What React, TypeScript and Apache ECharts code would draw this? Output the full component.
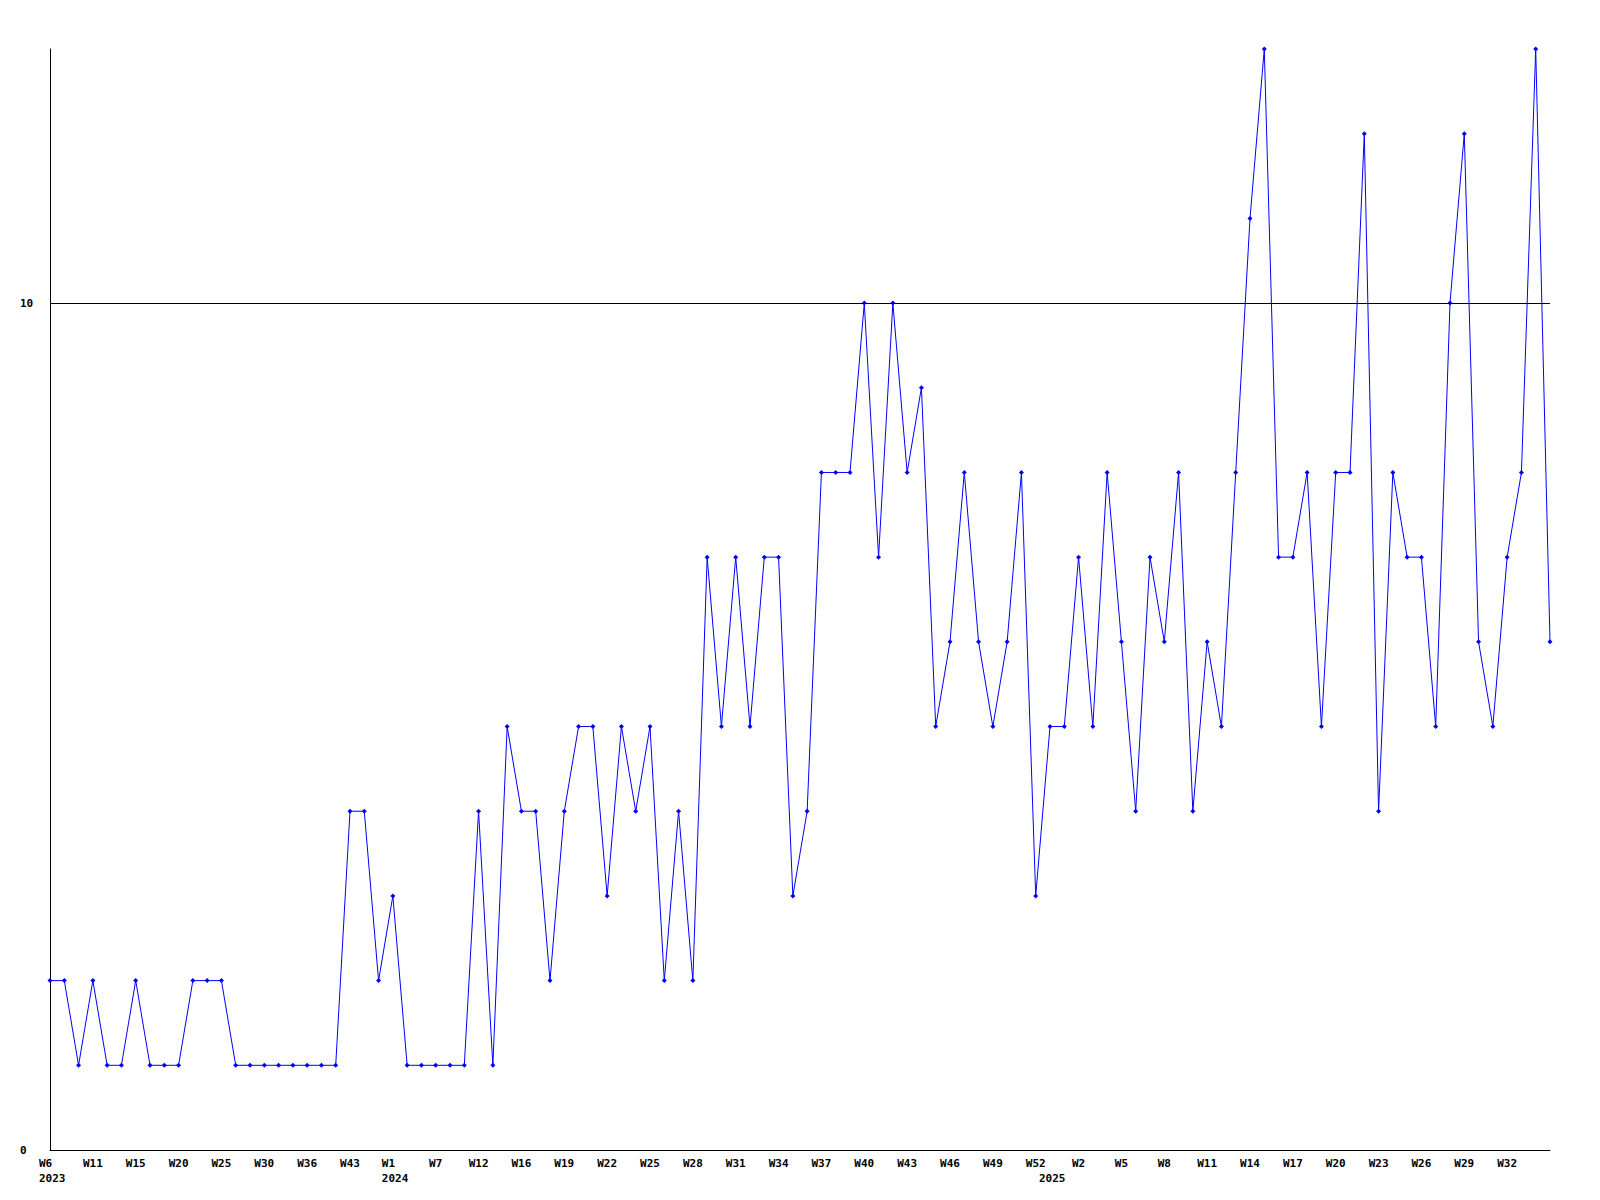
import React, { useEffect, useRef } from "react";
import * as echarts from "echarts";

// Week categories ("year week")
const weeks2023 = ["W6", "W7", "W9", "W11", "W12", "W13", "W15", "W17", "W18", "W20", "W21", "W23", "W25", "W27", "W28", "W30", "W32", "W34", "W36", "W38", "W40", "W43", "W46", "W49"];
const weeks2024 = ["W1", "W3", "W5", "W7", "W9", "W10", "W12", "W13", "W15", "W16", "W17", "W18", "W19", "W20", "W21", "W22", "W23", "W24", "W25", "W26", "W27", "W28", "W29", "W30", "W31", "W32", "W33", "W34", "W35", "W36", "W37", "W38", "W39", "W40", "W41", "W42", "W43", "W44", "W45", "W46", "W47", "W48", "W49", "W50", "W51", "W52"];
const weeks2025 = ["W1", "W1", "W2", "W3", "W4", "W5", "W6", "W7", "W8", "W9", "W10", "W11", "W12", "W13", "W14", "W15", "W16", "W17", "W18", "W19", "W20", "W21", "W22", "W23", "W24", "W25", "W26", "W27", "W28", "W29", "W30", "W31", "W32", "W33", "W34", "W35"];

const categories: string[] = [
  ...weeks2023.map((w) => "2023 " + w),
  ...weeks2024.map((w) => "2024 " + w),
  ...weeks2025.map((w) => "2025 " + w),
];

const values = [
  2, 2, 1, 2, 1, 1, 2, 1, 1, 1, 2, 2, 2, 1, 1, 1, 1, 1, 1, 1,
  1, 4, 4, 2, 3, 1, 1, 1, 1, 1, 4, 1, 5, 4, 4, 2, 4, 5, 5, 3,
  5, 4, 5, 2, 4, 2, 7, 5, 7, 5, 7, 7, 3, 4, 8, 8, 8, 10, 7, 10,
  8, 9, 5, 6, 8, 6, 5, 6, 8, 3, 5, 5, 7, 5, 8, 6, 4, 7, 6, 8,
  4, 6, 5, 8, 11, 13, 7, 7, 8, 5, 8, 8, 12, 4, 8, 7, 7, 5, 10, 12,
  6, 5, 7, 8, 13, 6,
];

const yMin = 0;
const yMax = 13;
const yInterval = 10;
const referenceLine = 10;
const labelEvery = 3;

const FONT = "'DejaVu Sans Mono', monospace";

export default function App() {
  const ref = useRef<HTMLDivElement>(null);

  useEffect(() => {
    if (!ref.current) return;
    const chart = echarts.init(ref.current, undefined, { renderer: "svg" });
    const yearOf = (i: number) => categories[i].split(" ")[0];
    const isYearStart = (i: number) => i === 0 || yearOf(i) !== yearOf(i - 1);
    const isWeekLabel = (i: number) => i % labelEvery === 0 && i < categories.length - 1;

    chart.setOption({
      animation: false,
      backgroundColor: "#ffffff",
      grid: { left: 50, right: 50, top: 49, bottom: 50, containLabel: false },
      xAxis: {
        type: "category",
        data: categories,
        boundaryGap: false,
        axisLine: { show: true, lineStyle: { color: "#000000", width: 1 } },
        axisTick: { show: false },
        splitLine: { show: false },
        axisLabel: {
          interval: (i: number) => isWeekLabel(i) || isYearStart(i),
          margin: 6,
          formatter: (value: string, i: number) => {
            const [year, week] = value.split(" ");
            const top = isWeekLabel(i) ? week : " ";
            if (isYearStart(i)) return `{b|${top}}\n{b|${year}}`;
            return `{a|${top}}`;
          },
          rich: {
            a: { fontFamily: FONT, fontWeight: "bold", fontSize: 11, lineHeight: 15, color: "#000000" },
            b: { fontFamily: FONT, fontWeight: "bold", fontSize: 11, lineHeight: 15, color: "#000000", width: 28, align: "left", padding: [0, 0, 0, 6] },
          },
        },
      },
      yAxis: {
        type: "value",
        min: yMin,
        max: yMax,
        interval: yInterval,
        axisLine: { show: true, lineStyle: { color: "#000000", width: 1 } },
        axisTick: { show: false },
        splitLine: { show: false },
        axisLabel: {
          align: "left",
          margin: 30,
          fontFamily: FONT,
          fontWeight: "bold",
          fontSize: 11,
          color: "#000000",
          formatter: (v: number) => (v % yInterval === 0 ? String(v) : ""),
        },
      },
      series: [
        {
          type: "line",
          data: values,
          lineStyle: { color: "#0000ff", width: 1 },
          itemStyle: { color: "#0000ff" },
          symbol: "diamond",
          symbolSize: 5,
          showSymbol: true,
          markLine: {
            silent: true,
            symbol: "none",
            label: { show: false },
            lineStyle: { color: "#000000", width: 1, type: "solid" },
            data: [{ yAxis: referenceLine }],
          },
        },
      ],
    });
    return () => chart.dispose();
  }, []);

  return (
    <div
      ref={ref}
      style={{ position: "fixed", left: 0, top: 0, width: 1600, height: 1200, background: "#ffffff" }}
    />
  );
}
